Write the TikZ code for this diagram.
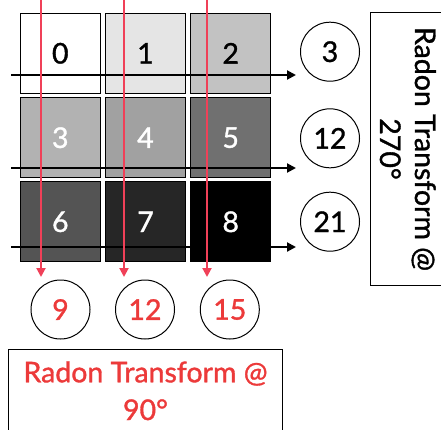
\documentclass[tikz,border=0pt]{standalone}
\usepackage{fontspec}
\setmainfont{Lato}[FakeBold=1.2]
\usetikzlibrary{arrows.meta}
\definecolor{rayred}{RGB}{240,64,88}
\definecolor{labelred}{RGB}{236,58,58}
\definecolor{g1}{gray}{0.90}
\definecolor{g2}{gray}{0.76}
\definecolor{g3}{gray}{0.70}
\definecolor{g4}{gray}{0.63}
\definecolor{g5}{gray}{0.44}
\definecolor{g6}{gray}{0.33}
\definecolor{g7}{gray}{0.15}
\begin{document}
\begin{tikzpicture}[x=1pt,y=-1pt,
  bigtext/.style={font=\fontsize{28.5}{34}\selectfont},
  cell/.style={draw=black, line width=1.1pt, minimum size=80pt, inner sep=0pt, bigtext},
  sumcirc/.style={draw=black, line width=1pt, circle, minimum size=59pt, inner sep=0pt, bigtext},
  ray/.style={line width=2pt, -{Triangle[length=9pt,width=9pt]}},
  hray/.style={ray, black},
  vray/.style={ray, rayred},
  labelbox/.style={draw=black, line width=1pt, inner sep=0pt},
]
\useasboundingbox (0,0) rectangle (441,429);

% 3x3 image grid
\node[cell, fill=white]            (c0) at (60.3,53.3)   {0};
\node[cell, fill=g1]               (c1) at (145.5,53.3)  {1};
\node[cell, fill=g2]               (c2) at (230.7,53.3)  {2};
\node[cell, fill=g3, text=white]   (c3) at (60.3,137.7)  {3};
\node[cell, fill=g4, text=white]   (c4) at (145.5,137.7) {4};
\node[cell, fill=g5, text=white]   (c5) at (230.7,137.7) {5};
\node[cell, fill=g6, text=white]   (c6) at (60.3,221.8)  {6};
\node[cell, fill=g7, text=white]   (c7) at (145.5,221.8) {7};
\node[cell, fill=black, text=white](c8) at (230.7,221.8) {8};

% row sums
\node[sumcirc] (r0) at (330,51.7)  {3};
\node[sumcirc] (r1) at (330,138.3) {12};
\node[sumcirc] (r2) at (330,221.7) {21};

% column sums
\node[sumcirc, text=labelred] (s0) at (60.5,309.5)  {9};
\node[sumcirc, text=labelred] (s1) at (145,309.5)   {12};
\node[sumcirc, text=labelred] (s2) at (229.8,309.5) {15};

% horizontal projection rays
\coordinate (h0a) at (11,75);  \coordinate (h0b) at (296,75);
\coordinate (h1a) at (11,168); \coordinate (h1b) at (296,168);
\coordinate (h2a) at (11,247); \coordinate (h2b) at (296,247);
\draw[hray] (h0a) -- (h0b);
\draw[hray] (h1a) -- (h1b);
\draw[hray] (h2a) -- (h2b);

% vertical projection rays
\coordinate (v0a) at (41,-2);  \coordinate (v0b) at (41,277);
\coordinate (v1a) at (124,-2); \coordinate (v1b) at (124,277);
\coordinate (v2a) at (207,-2); \coordinate (v2b) at (207,277);
\draw[vray] (v0a) -- (v0b);
\draw[vray] (v1a) -- (v1b);
\draw[vray] (v2a) -- (v2b);

% label boxes
\node[labelbox, minimum width=100pt, minimum height=273pt] (b270) at (420,148.5) {};
\node[bigtext, rotate=-90, anchor=base] (t270a) at (415,149) {Radon Transform @};
\node[bigtext, rotate=-90, anchor=base] (t270b) at (380,149) {270°};

\node[labelbox, minimum width=274.7pt, minimum height=100pt] (b90) at (145.35,399.3) {};
\node[bigtext, text=labelred, anchor=base] (t90a) at (145.5,382.3) {Radon Transform @};
\node[bigtext, text=labelred, anchor=base] (t90b) at (145.5,420) {90°};
\end{tikzpicture}
\end{document}
